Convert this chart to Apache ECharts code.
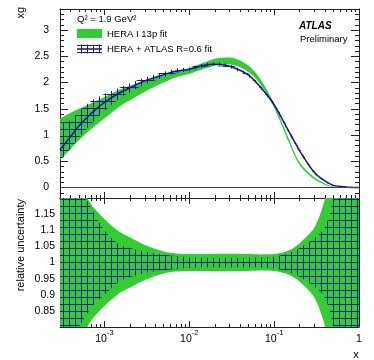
<!DOCTYPE html>
<html>
<head>
<meta charset="utf-8">
<script src="https://cdn.jsdelivr.net/npm/echarts@6/dist/echarts.min.js"></script>
<style>
html, body { margin: 0; padding: 0; background: #fff; }
#container { width: 374px; height: 360px; }
</style>
</head>
<body>
<div id="container"></div>
<script>
// x points (Q^2 = 1.9 GeV^2)
var xVals = [3e-4, 4e-4, 5e-4, 7e-4, 1e-3, 1.5e-3, 2e-3, 3e-3, 5e-3, 7e-3, 0.01, 0.015,
             0.02, 0.03, 0.05, 0.07, 0.1, 0.15, 0.2, 0.3, 0.4, 0.5, 0.7, 1.0];

// HERA I 13p fit: central xg and relative uncertainty
var heraCentral = [0.92, 1.08, 1.20, 1.36, 1.52, 1.70, 1.80, 1.93, 2.07, 2.16, 2.22, 2.32,
                   2.39, 2.41, 2.26, 2.00, 1.56, 0.88, 0.45, 0.17, 0.06, 0.015, 0.0, 0.0];
var heraErr = [0.43, 0.32, 0.25, 0.18, 0.135, 0.095, 0.078, 0.054, 0.034, 0.028, 0.026, 0.026,
               0.027, 0.027, 0.026, 0.025, 0.026, 0.038, 0.06, 0.11, 0.2, 0.32, 0.6, 1.0];

// HERA + ATLAS R=0.6 fit: central xg and relative uncertainty (up / down)
var atlasCentral = [0.72, 0.97, 1.17, 1.41, 1.62, 1.80, 1.90, 2.03, 2.15, 2.22, 2.25, 2.33,
                    2.35, 2.31, 2.14, 1.90, 1.58, 1.06, 0.70, 0.28, 0.12, 0.04, 0.01, 0.0];
var atlasErrUp = [0.72, 0.32, 0.24, 0.17, 0.10, 0.055, 0.045, 0.033, 0.024, 0.02, 0.016, 0.015,
                  0.015, 0.015, 0.015, 0.016, 0.018, 0.03, 0.045, 0.075, 0.11, 0.2, 0.45, 1.0];
var atlasErrDown = [0.30, 0.24, 0.20, 0.14, 0.10, 0.06, 0.045, 0.033, 0.024, 0.02, 0.016, 0.015,
                    0.015, 0.015, 0.015, 0.016, 0.018, 0.03, 0.045, 0.075, 0.11, 0.2, 0.45, 1.0];

// ticks
var xTicks = [0.001, 0.01, 0.1, 1];
var xDecades = [0.0001, 0.001, 0.01, 0.1];
var xMinorMult = [2, 3, 4, 5, 6, 7, 8, 9];
var yTicksTop = [0, 0.5, 1, 1.5, 2, 2.5, 3];
var yTicksRatio = [0.85, 0.9, 0.95, 1, 1.05, 1.1, 1.15];

var GREEN = '#33cc33';
var NAVY = '#14149b';
var FONT = 'Liberation Sans, Arial, Helvetica, sans-serif';
var xMin = 3e-4, xMax = 1;

var xMinor = [];
xDecades.forEach(function (d) {
    xMinorMult.forEach(function (m) {
        var v = +(m * d).toPrecision(3);
        if (v > xMin * 1.01 && v < xMax) xMinor.push(v);
    });
});
var yMinorTop = [];
for (var i = -1; i <= 33; i++) if (i % 5) yMinorTop.push(i / 10);
var yMinorRatio = [];
for (var j = 81; j <= 119; j++) if (j % 5) yMinorRatio.push(j / 100);

// hatch pattern (grid of thin navy lines)
var hatch = document.createElement('canvas');
hatch.width = 6; hatch.height = 7;
var hg = hatch.getContext('2d');
hg.fillStyle = '#1c1c8c';
hg.fillRect(0, 3, 6, 1);
hg.fillRect(3, 0, 1, 7);
var hatchFill = { image: hatch, repeat: 'repeat' };

function pairs(vals) {
    return xVals.map(function (x, k) { return [x, vals[k]]; });
}
// rows as [y, x] so that stacking happens on y (first numeric dim)
function rowsYX(vals) {
    return xVals.map(function (x, k) { return [vals[k], x]; });
}

function bandSeries(id, axis, lower, upper, areaColor) {
    var diff = upper.map(function (u, k) { return u - lower[k]; });
    var common = {
        type: 'line', xAxisIndex: axis, yAxisIndex: axis, stack: id, stackStrategy: 'all',
        encode: { x: 1, y: 0 },
        symbol: 'none', smooth: 0.3, silent: true, lineStyle: { width: 0, opacity: 0 }
    };
    return [
        Object.assign({}, common, { data: rowsYX(lower) }),
        Object.assign({}, common, { data: rowsYX(diff), areaStyle: { color: areaColor, opacity: 1 } })
    ];
}

var heraLo = heraCentral.map(function (c, k) { return c * (1 - heraErr[k]); });
var heraHi = heraCentral.map(function (c, k) { return c * (1 + heraErr[k]); });
var atlasLo = atlasCentral.map(function (c, k) { return c * (1 - atlasErrDown[k]); });
var atlasHi = atlasCentral.map(function (c, k) { return c * (1 + atlasErrUp[k]); });
var heraRLo = heraErr.map(function (e) { return 1 - e; });
var heraRHi = heraErr.map(function (e) { return 1 + e; });
var atlasRLo = atlasErrDown.map(function (e) { return 1 - e; });
var atlasRHi = atlasErrUp.map(function (e) { return 1 + e; });

function xAxisDef(grid, pos, ticks, len, line, labels) {
    return {
        type: 'log', logBase: 10, gridIndex: grid, position: pos, min: xMin, max: xMax,
        axisLine: { show: line, onZero: false, lineStyle: { color: '#222', width: 1 } },
        axisTick: { show: true, inside: true, length: len, customValues: ticks,
                    lineStyle: { color: '#222', width: 1 } },
        axisLabel: labels ? {
            show: true, customValues: xTicks, margin: 2, color: '#000',
            fontFamily: FONT, fontSize: 10.5,
            formatter: function (v) {
                if (Math.abs(v - 1) < 1e-9) return '{b|1}';
                return '{b|10}{s|' + Math.round(Math.log10(v)) + '}';
            },
            rich: {
                b: { fontFamily: FONT, fontSize: 10.5, lineHeight: 16, verticalAlign: 'bottom', color: '#000' },
                s: { fontFamily: FONT, fontSize: 7.5, lineHeight: 8, verticalAlign: 'top', color: '#000' }
            }
        } : { show: false },
        splitLine: { show: false }
    };
}

function yAxisDef(grid, pos, min, max, ticks, len, line, labelTicks, margin) {
    return {
        type: 'value', gridIndex: grid, position: pos, min: min, max: max,
        axisLine: { show: line, onZero: false, lineStyle: { color: '#222', width: 1 } },
        axisTick: { show: true, inside: true, length: len, customValues: ticks,
                    lineStyle: { color: '#222', width: 1 } },
        axisLabel: labelTicks ? {
            show: true, customValues: labelTicks, margin: margin, color: '#000',
            fontFamily: FONT, fontSize: 10.5,
            formatter: function (v) { return String(+v.toFixed(2)); }
        } : { show: false },
        splitLine: { show: false }
    };
}

var myChart = echarts.init(document.getElementById('container'));

var option = {
    animation: false,
    backgroundColor: '#fff',
    grid: [
        { left: 60, right: 15, top: 9, height: 189 },
        { left: 60, right: 15, top: 198, height: 129 }
    ],
    xAxis: [
        xAxisDef(0, 'bottom', xTicks, 6, true, false),
        xAxisDef(0, 'bottom', xMinor, 3, false, false),
        xAxisDef(0, 'top', xTicks, 6, true, false),
        xAxisDef(0, 'top', xMinor, 3, false, false),
        xAxisDef(1, 'bottom', xTicks, 6, true, true),
        xAxisDef(1, 'bottom', xMinor, 3, false, false),
        xAxisDef(1, 'top', xTicks, 6, true, false),
        xAxisDef(1, 'top', xMinor, 3, false, false)
    ],
    yAxis: [
        yAxisDef(0, 'left', -0.2, 3.4, yTicksTop, 8, true, yTicksTop, 11),
        yAxisDef(0, 'left', -0.2, 3.4, yMinorTop, 4, false, null),
        yAxisDef(0, 'right', -0.2, 3.4, yTicksTop, 8, true, null),
        yAxisDef(0, 'right', -0.2, 3.4, yMinorTop, 4, false, null),
        yAxisDef(1, 'left', 0.8, 1.2, yTicksRatio, 8, true, yTicksRatio, 5),
        yAxisDef(1, 'left', 0.8, 1.2, yMinorRatio, 4, false, null),
        yAxisDef(1, 'right', 0.8, 1.2, yTicksRatio, 8, true, null),
        yAxisDef(1, 'right', 0.8, 1.2, yMinorRatio, 4, false, null)
    ],
    series: [].concat(
        bandSeries('heraTop', 0, heraLo, heraHi, GREEN),
        bandSeries('atlasTop', 0, atlasLo, atlasHi, hatchFill),
        [{
            type: 'line', xAxisIndex: 0, yAxisIndex: 0, data: pairs(atlasCentral),
            symbol: 'none', smooth: 0.3, silent: true,
            lineStyle: { color: NAVY, width: 1.5 },
            markLine: {
                silent: true, symbol: 'none', label: { show: false },
                lineStyle: { color: '#444', width: 1, type: 'solid' },
                data: [{ yAxis: 0 }]
            }
        }],
        bandSeries('heraRatio', 4, heraRLo, heraRHi, GREEN),
        bandSeries('atlasRatio', 4, atlasRLo, atlasRHi, hatchFill)
    ),
    graphic: [
        { type: 'text', x: 21, y: 7, rotation: Math.PI / 2,
          style: { text: 'xg', fontFamily: FONT, fontSize: 11, fill: '#000', align: 'right', verticalAlign: 'middle' } },
        { type: 'text', x: 21, y: 199, rotation: Math.PI / 2,
          style: { text: 'relative uncertainty', fontFamily: FONT, fontSize: 11, fill: '#000', align: 'right', verticalAlign: 'middle' } },
        { type: 'text', x: 356, y: 355,
          style: { text: 'x', fontFamily: FONT, fontSize: 11, fill: '#000', align: 'center', verticalAlign: 'middle' } },
        { type: 'text', x: 77, y: 19,
          style: { text: 'Q² = 1.9 GeV²', fontFamily: FONT, fontSize: 9.5, fill: '#000', align: 'left', verticalAlign: 'middle' } },
        { type: 'rect', shape: { x: 77, y: 29, width: 25, height: 9 }, style: { fill: GREEN } },
        { type: 'text', x: 107, y: 34,
          style: { text: 'HERA I 13p fit', fontFamily: FONT, fontSize: 9.5, fill: '#000', align: 'left', verticalAlign: 'middle' } },
        { type: 'rect', shape: { x: 77, y: 44.5, width: 25, height: 9 }, style: { fill: hatchFill } },
        { type: 'line', shape: { x1: 77, y1: 49, x2: 102, y2: 49 }, style: { stroke: NAVY, lineWidth: 1.5 } },
        { type: 'text', x: 107, y: 49,
          style: { text: 'HERA + ATLAS R=0.6 fit', fontFamily: FONT, fontSize: 9.5, fill: '#000', align: 'left', verticalAlign: 'middle' } },
        { type: 'text', x: 299, y: 26,
          style: { text: 'ATLAS', fontFamily: FONT, fontSize: 10, fontWeight: 'bold', fontStyle: 'italic', fill: '#000', align: 'left', verticalAlign: 'middle' } },
        { type: 'text', x: 300, y: 39,
          style: { text: 'Preliminary', fontFamily: FONT, fontSize: 9.5, fill: '#000', align: 'left', verticalAlign: 'middle' } }
    ]
};

myChart.setOption(option);
</script>
</body>
</html>
